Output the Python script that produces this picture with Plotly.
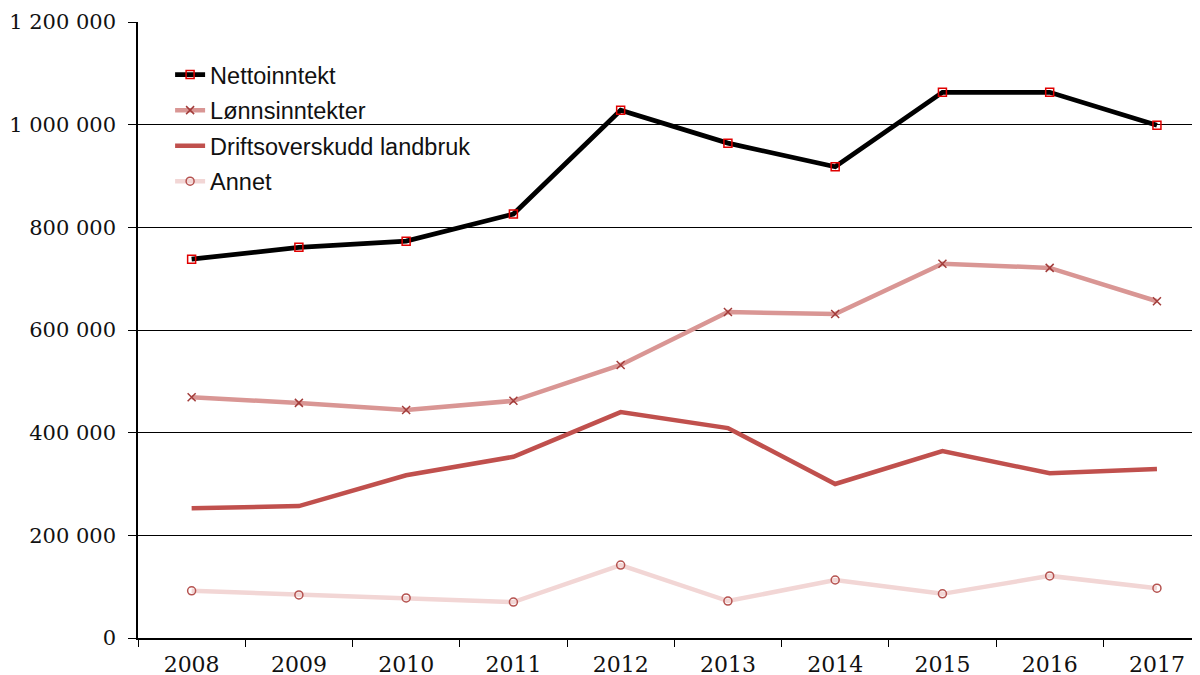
import plotly.graph_objects as go

years = ["2008", "2009", "2010", "2011", "2012", "2013", "2014", "2015", "2016", "2017"]
nettoinntekt = [738000, 761000, 773000, 826000, 1028000, 964000, 918000, 1063000, 1063000, 999000]
lonnsinntekter = [469000, 458000, 444000, 462000, 532000, 635000, 631000, 729000, 721000, 656000]
driftsoverskudd = [253000, 257000, 317000, 353000, 440000, 409000, 300000, 364000, 321000, 329000]
annet = [92000, 84000, 78000, 70000, 142000, 72000, 113000, 86000, 121000, 97000]
y_ticks = [0, 200000, 400000, 600000, 800000, 1000000, 1200000]
y_ticktext = ["0", "200 000", "400 000", "600 000", "800 000", "1 000 000", "1 200 000"]

fig = go.Figure()
fig.add_trace(go.Scatter(
    x=years, y=nettoinntekt, name="Nettoinntekt", mode="lines+markers", legendgroup="a",
    line=dict(color="#000000", width=4.8),
    marker=dict(symbol="square-open", size=8, color="#e00000", line=dict(width=1.5, color="#e00000")),
))
fig.add_trace(go.Scatter(
    x=years, y=lonnsinntekter, name="Lønnsinntekter", mode="lines+markers", legendgroup="b",
    line=dict(color="#d99694", width=4.5),
    marker=dict(symbol="x-thin-open", size=8, color="#a23c3a", line=dict(width=1.5, color="#a23c3a")),
))
fig.add_trace(go.Scatter(
    x=years, y=driftsoverskudd, name="Driftsoverskudd landbruk", mode="lines", legendgroup="c",
    line=dict(color="#c0504d", width=4.5),
))
fig.add_trace(go.Scatter(
    x=years, y=annet, name="Annet", mode="lines+markers", legendgroup="d",
    line=dict(color="#f2d6d5", width=4.5),
    marker=dict(symbol="circle-open", size=8, color="#b5524f", line=dict(width=1.5, color="#b5524f")),
))

fig.update_layout(
    width=1200, height=675,
    margin=dict(l=130, r=0, t=14, b=45),
    plot_bgcolor="white", paper_bgcolor="white",
    showlegend=True,
    legend=dict(
        x=0.03, y=0.95, xanchor="left", yanchor="top",
        font=dict(family="Liberation Sans, Arial, sans-serif", size=23.5, color="#111111"),
        bgcolor="rgba(255,255,255,0)", tracegroupgap=2, traceorder="grouped", itemsizing="trace",
    ),
)
fig.update_xaxes(
    type="category", range=[-0.5, 9.476], automargin=False,
    showline=True, linecolor="#000000", linewidth=1.5,
    ticks="outside", tickson="boundaries", ticklen=7, tickcolor="#000000", tickwidth=1,
    ticklabelstandoff=6,
    showgrid=False,
    tickfont=dict(family="DejaVu Serif, Georgia, serif", size=22, color="#111111"),
)
fig.update_yaxes(
    range=[0, 1200000], tickvals=y_ticks, ticktext=y_ticktext, automargin=False,
    showline=True, linecolor="#000000", linewidth=1.5,
    showgrid=True, gridcolor="#000000", gridwidth=1,
    ticks="outside", ticklen=8, tickcolor="#000000", ticklabelstandoff=8,
    zeroline=False,
    tickfont=dict(family="DejaVu Serif, Georgia, serif", size=21, color="#111111"),
)

fig.write_html("out.html")
